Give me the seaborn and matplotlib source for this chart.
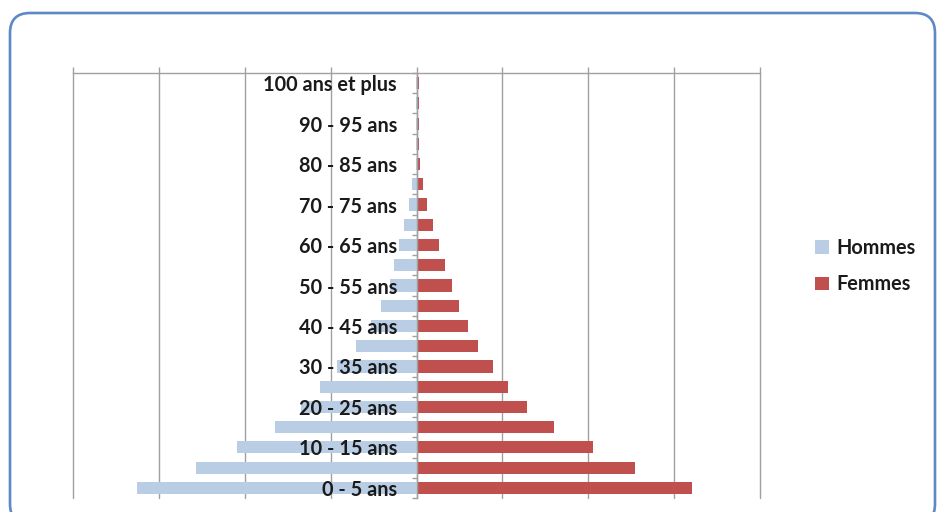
import matplotlib
matplotlib.use("Agg")
import matplotlib.pyplot as plt
import matplotlib.patches as mpatches
import numpy as np
import pandas as pd
import seaborn as sns

# ---- data ----
categories = ["0 - 5 ans", "5 - 10 ans", "10 - 15 ans", "15 - 20 ans", "20 - 25 ans",
              "25 - 30 ans", "30 - 35 ans", "35 - 40 ans", "40 - 45 ans", "45 - 50 ans",
              "50 - 55 ans", "55 - 60 ans", "60 - 65 ans", "65 - 70 ans", "70 - 75 ans",
              "75 - 80 ans", "80 - 85 ans", "85 - 90 ans", "90 - 95 ans", "95 - 100 ans",
              "100 ans et plus"]
tick_labels = ["0 - 5 ans", "", "10 - 15 ans", "", "20 - 25 ans", "", "30 - 35 ans", "",
               "40 - 45 ans", "", "50 - 55 ans", "", "60 - 65 ans", "", "70 - 75 ans", "",
               "80 - 85 ans", "", "90 - 95 ans", "", "100 ans et plus"]
hommes = [3.26, 2.57, 2.085, 1.65, 1.34, 1.12, 0.92, 0.71, 0.53, 0.41, 0.31,
          0.26, 0.205, 0.15, 0.09, 0.05, 0.01, 0.005, 0.003, 0.002, 0.001]
femmes = [3.21, 2.54, 2.05, 1.60, 1.29, 1.07, 0.89, 0.72, 0.60, 0.50, 0.415,
          0.33, 0.26, 0.19, 0.124, 0.08, 0.045, 0.03, 0.03, 0.03, 0.03]
series = ["Hommes", "Femmes"]
colors = {"Hommes": "#b9cde5", "Femmes": "#c0504d"}

df = pd.DataFrame({
    "age": categories * 2,
    "sexe": [series[0]] * len(categories) + [series[1]] * len(categories),
    "valeur": [-v for v in hommes] + list(femmes),
})

sns.set_theme(style="white")
plt.rcParams["font.family"] = ["Lato", "DejaVu Sans"]

W, H, DPI = 938, 512, 100
fig = plt.figure(figsize=(W / DPI, H / DPI), dpi=DPI)
fig.patch.set_facecolor("white")

# rounded frame
frame = mpatches.FancyBboxPatch((10, -12), 925, 511, boxstyle="round,pad=0,rounding_size=20",
                                transform=None, facecolor="none", edgecolor="#5f88c6",
                                linewidth=1.9, zorder=0)
fig.patches.append(frame)

ax = fig.add_axes([73 / W, 1 - 498 / H, (760 - 73) / W, (498 - 73) / H])
ax.set_facecolor("none")

order = categories[::-1]
sns.barplot(data=df, y="age", x="valeur", hue="sexe", order=order, hue_order=series,
            palette=colors, dodge=False, orient="h", width=0.6, linewidth=0,
            saturation=1, ax=ax)

ax.set_xlim(-4, 4)
ax.set_ylim(len(categories) - 0.5, -0.5)
ax.set_xlabel("")
ax.set_ylabel("")

# vertical gridlines behind bars, top axis line with outward ticks
ax.set_xticks(np.arange(-4, 5, 1))
ax.xaxis.tick_top()
ax.tick_params(axis="x", which="major", top=True, bottom=False, direction="out",
               length=4.5, width=1, color="#a0a0a0", labeltop=False, labelbottom=False)
ax.grid(axis="x", color="#a0a0a0", linewidth=1)
ax.grid(axis="y", visible=False)
for gl in ax.xaxis.get_gridlines():
    gl.set_clip_on(False)
ax.xaxis.set_zorder(0.5)

for s in ["bottom", "right"]:
    ax.spines[s].set_visible(False)
ax.spines["top"].set_color("#a0a0a0")
ax.spines["top"].set_linewidth(1)
ax.spines["left"].set_position(("data", 0))
ax.spines["left"].set_color("#a0a0a0")
ax.spines["left"].set_linewidth(1)

# y labels at category centres, boundary ticks
ax.set_yticks(range(len(order)))
ax.set_yticklabels(tick_labels[::-1])
ax.set_yticks(np.arange(-0.5, len(order), 1), minor=True)
ax.tick_params(axis="y", which="major", length=0, pad=14, labelsize=14.3, labelcolor="#1a1a1a")
ax.tick_params(axis="y", which="minor", left=True, direction="out", length=3.5, width=1,
               color="#a0a0a0")
for t in ax.get_yticklabels():
    t.set_fontweight("bold")
ax.yaxis.set_zorder(2.5)

# legend
handles, labels = ax.get_legend_handles_labels()
if ax.legend_:
    ax.legend_.remove()
fig.legend(handles, labels, loc="center left", bbox_to_anchor=(805 / W, 1 - 266 / H),
           frameon=False, handlelength=0.7, handleheight=0.7, handletextpad=0.4,
           labelspacing=0.85, borderpad=0, prop={"size": 14.3, "weight": "bold"},
           labelcolor="#1a1a1a")

fig.savefig("out.png", dpi=DPI, facecolor="white")
